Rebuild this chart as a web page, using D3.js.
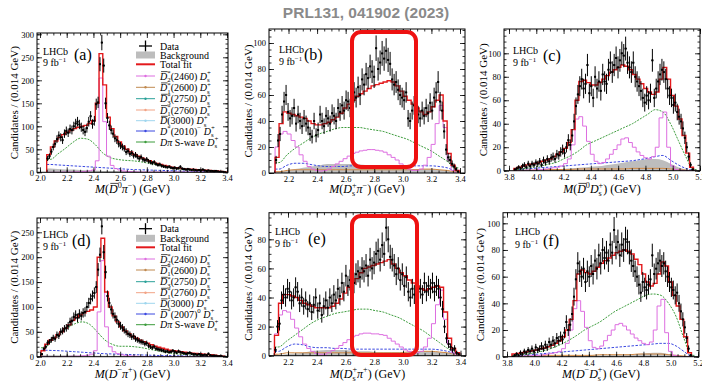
<!DOCTYPE html>
<html><head><meta charset="utf-8">
<script src="https://cdn.jsdelivr.net/npm/d3@7"></script>
<style>
body{margin:0;background:#fff}
svg{display:block;font-family:"Liberation Serif","Times New Roman",serif}
</style>
</head><body>
<svg id="c" width="702" height="383"></svg>
<script>
// ---------------- DATA ----------------
const DATA_BIN = 0.014, FIT_BIN = 0.028, SMOOTH_BIN = 0.056;

// (a) M(Dbar0 pi-)
const aStart = 2.05;
const aData = [30,35,45,55,62,72,80,76,70,84,90,86,94,92,100,106,110,104,98,92,88,96,110,122,105,112,148,152,235,282,232,150,118,102,92,84,74,70,62,58,55,52,44,46,40,42,36,38,34,30,33,28,26,28,24,22,20,22,18,16,17,14,13,12,11,12,10,9,10,8,9,12,8,7,6,7,6,5,6,5,4,5,4,6,4,3,4,3,3,2,3,2,1,1,1,0];
const aTotal = [38,55,68,76,82,87,91,95,98,100,102,106,112,150,258,190,120,95,78,66,57,50,44,39,35,31,28,25,22,19,17,15,13,11,10,9,8,7,6.5,6,5.5,5,4.5,4,3.5,3,2,1];
const aD2460 = [0,0,0,0,0.5,0.5,0.5,1,1,1.5,2,3,5,25,205,110,35,15,8,5,3,2,1.5,1,0.5,0.5,0.5,0.5,0.5,0.5,0.5,0.5,0.5,0.5,0.5,0.5,0.5,0.5,0.5,0.5,0.5,0.5,0.5,0.5,0.5,0.5,0.5,0.5];
const aSwave = [28,40,52,65,74,72,60,42,32,28,26,25,23,20,17,14,11,8,6,4.5,3.5,2.5,2,1];
const aDstar = [17,16,15,14,13,12,11,10,9,8,7,6,5.5,5,4.5,4,3.5,3,2.5,2,1.5,1.2,1,0.5];
const aBkg = [8,7,6,6,5,4,4,3,3,3,2.5,2.5,2,2,2,1.5,1.5,1.5,1,1,1,1,0.5,0.5];

// (b) M(Ds+ pi-)
const bStart = 2.106;
const bData = [10,25,30,45,55,60,47,42,44,50,38,45,40,36,42,38,35,30,28,40,29,33,45,40,36,44,42,38,46,44,40,50,47,52,48,56,55,50,60,62,58,66,60,72,68,76,73,82,78,74,96,80,85,92,88,94,87,84,72,68,70,64,60,58,56,62,42,40,48,52,38,45,42,48,44,50,46,54,48,58,62,70,55,48,32,18,12,10,7,5,3,1];
const bTotal = [12,38,47,46,45,44,43,42,40,38,37,37,38,39,41,43,46,50,53,56,59,61,63,65,67,68,69,70,71,70,67,63,59,56,53,50,47,45,47,51,56,60,40,15,6,2];
const bD2460 = [20,30,32,30,25,20,14,9,5,3,2,1.5,2,3,5,7,9,11,13,15,16,17,17.5,18,18,17.5,17,16,14,12,10,7,5,3,2,2,3,6,12,22,38,52,35,10,2,0];
const bSwave = [8,14,19,23,27,30,32,34,35,35,35,34,33,32,30,28,26,23,20,17,13,9,4];
const bDstar = [3,6,7.5,7.5,6.5,5.5,5,5,5,5.5,5.5,5.5,5.5,5.5,5.5,5.5,5.5,5.5,5.5,5.5,5,4,2];
const bBkg = [1,2,3,4,5,6,7,7,7,7,6.5,6,5,4,3.5,3,3,3,3,3,2.5,2,1];
const bOther = [1,2,2.5,2.5,2.5,2.5,2.5,2.5,2.5,2.5,2.5,2.5,2.5,2.5,2.5,2.5,2.5,2.5,3,3,2.5,2,1];

// (c) M(Dbar0 Ds+)
const cStart = 3.836;
const cData = [1,2,3,2,4,5,3,6,4,6,5,7,6,8,5,9,7,10,8,11,12,10,14,13,16,18,15,20,26,22,30,42,55,65,72,78,70,74,90,66,72,62,80,70,76,68,82,76,74,86,92,84,90,96,88,94,100,98,104,92,88,84,92,80,76,72,68,62,58,64,60,66,94,62,70,76,82,86,84,78,70,64,62,56,58,50,46,42,36,28,20,12,5,1];
const cTotal = [2,3,4,5,5.5,6,7,8,9,10,12,14,16,19,24,35,60,76,77,75,73,73,75,78,81,84,86,88,90,89,86,82,78,74,70,67,65,67,78,88,78,64,55,44,30,15,3];
const cD2460 = [0,0,0,0.5,0.5,0.5,1,1,1.5,2,2.5,3,4,6,10,22,44,46,38,25,14,8,6,7,10,14,18,22,27,28,24,20,16,13,11,10,12,20,45,50,20,4,1,0.5,0,0,0];
const cSwave = [1,2,3,4,5.5,7,10,13,17,22,25,28,31,34,37,40,44,48,52,50,40,26,12,1];
const cDstar = [1,1.5,2,2.5,3,3.5,4,4.5,5,5.5,6,6.5,7,7.5,8,8.5,9.5,10.5,12,13,9,5,2,0.5];
const cBkg = [0,0,0.5,0.5,1,1,1.5,2,2.5,3,3.5,4,5,6,7,8,9,10,10,9,6,3,1,0];
const cOther = [0,0.5,0.5,1,1,1,1,1,1.5,1.5,1.5,1.5,1.5,1.5,1.5,2,2,2,2,2,1.5,1,0.5,0];

// (d) M(D- pi+)
const dStart = 2.008;
const dData = [5,16,20,28,30,34,38,36,44,42,50,52,56,58,62,70,72,80,84,78,86,82,88,90,100,108,116,122,128,140,175,205,262,210,170,122,108,95,86,80,74,66,62,58,54,50,46,44,40,41,36,34,32,30,29,26,27,22,20,18,20,16,15,14,13,12,10,11,9,10,12,10,8,11,9,8,7,6,7,8,6,5,5,4,5,4,3,4,3,6,3,2,2,2,1,1,1,0,0];
const dTotal = [12,25,33,38,44,50,57,64,73,79,84,88,91,94,100,200,238,130,100,82,70,60,52,46,41,37,33,30,27,24,21,19,17,15,13,12,11,10,9,8,7,6.5,6,5,4.5,4,3,2,1];
const dD2460 = [0,0,0,0,0,0,0.5,0.5,1,1,1.5,2,3,5,12,90,193,60,20,10,6,4,3,2,1.5,1,0.5,0.5,0.5,0.5,0.5,0.5,0.5,0.5,0.5,0.5,0.5,0.5,0.5,0.5,0.5,0.5,0.5,0.5,0.5,0.5,0.5,0.5,0.5];
const dSwave = [18,34,46,57,66,70,65,50,34,25,21,21,20,18,15,12,9,7,5,4,3,2,1.5,1,0.5];
const dDstar = [13,12.5,12,11,10,9,8,7,6,5.5,5,4.5,4,3.5,3,2.5,2.2,2,1.8,1.5,1.2,1,0.8,0.6,0.4];
const dBkg = [3,3,3,3,3,2.5,2.5,2,2,2,2,2,1.5,1.5,1.5,1,1,1,1,1,0.5,0.5,0.5,0.5,0];

// (e) M(Ds+ pi+)
const eStart = 2.106;
const eData = [4,20,22,38,42,40,46,44,38,40,47,44,36,40,34,38,32,36,30,35,40,31,36,28,34,38,33,40,36,42,38,46,41,50,44,55,48,52,46,50,56,58,54,60,58,62,55,66,60,64,70,72,66,76,70,88,80,68,66,62,56,60,52,56,48,54,44,40,46,42,48,44,46,42,50,44,48,46,50,44,48,46,40,32,20,12,8,6,4,5,2,1];
const eTotal = [14,36,42,42,41,40,38,36,35,34,33,33,33,33,34,36,39,43,47,50,53,57,60,61,62,63,64,65,66,63,60,57,55,52,50,48,46,45,46,47,48,47,30,12,5,2];
const eD2460 = [15,28,31,30,25,19,13,8,5,3,1.5,1,1,2,3.5,5,7,9,11,13,14,15,15.5,15.5,15,15,14.5,14,12,10,8,6,4,3,2,2,3,6,12,22,35,45,25,8,2,0];
const eSwave = [6,10,14,18,22,25,27,29,30,31,32,32,31,30,28,26,23,20,17,13,9,5,2];
const eDstar = [3,6,8,7.5,6,5.5,5.5,5,5,4.5,4.5,4.5,4.5,4.5,4.5,4.5,4.5,4.5,4.5,4.5,4,3,1.5];
const eBkg = [0.5,1,1.5,2,3,3.5,4,4,4,3.5,3,3,2.5,2.5,2.5,2.5,2.5,3,3,3,2.5,2,1];
const eOther = [1,2,2,2,2,2,2,2,2,2,2,2,2,2,2,2,2.5,2.5,3,3,2.5,2,1];

// (f) M(D- Ds+)
const fStart = 3.836;
const fData = [0,1,2,1,3,2,4,3,5,4,6,4,7,5,6,8,6,9,7,11,9,12,10,14,12,15,13,18,26,20,24,32,45,58,70,64,60,66,56,64,60,68,62,72,66,76,70,80,74,78,72,84,78,95,82,86,76,84,80,88,86,78,72,68,64,60,54,48,56,52,50,54,58,76,62,66,70,72,68,70,64,60,56,52,50,46,48,40,34,28,22,14,6,1];
const fTotal = [2,2.5,3,3.5,4,4.5,5,6,6.5,7.5,8.5,10,12,15,20,28,42,62,65,63,62,64,67,70,72,74,76,78,79,80,79,77,73,69,62,56,53,55,62,71,68,56,46,38,28,15,3];
const fD2460 = [0,0,0.5,0.5,0.5,1,1,1,1.5,2,2.5,3,4,6,10,20,36,42,34,22,12,7,6,8,12,16,20,24,25,23,20,17,14,12,10,9,11,20,38,43,18,4,1,0.5,0,0,0];
const fSwave = [1,1.5,2.5,3.5,5,7,9.5,12.5,16,20,23,26,30,34,37,40,43,46,47,46,40,30,14,1];
const fDstar = [0.5,1,1.5,2,2.5,3,3.5,4,4.5,5,5.5,6,6.5,7,7.5,8,8.5,9,9.5,10,10,8,4,0.5];
const fBkg = [0,0,0,0.5,0.5,0.5,0.5,0.5,1,1,1,1,1,1.5,1.5,1.5,2,2.5,3,3,2,1,0.5,0];
const fOther = [0,0.5,0.5,0.5,1,1,1,1,1,1,1,1.5,1.5,1.5,1.5,1.5,2,2,2,2,1.5,1,0.5,0];

// tick labels
const xTicksDpi = ["2.0","2.2","2.4","2.6","2.8","3.0","3.2","3.4"];
const xTicksDspi = ["2.2","2.4","2.6","2.8","3.0","3.2","3.4"];
const xTicksDDs = ["3.8","4.0","4.2","4.4","4.6","4.8","5.0","5.2"];
const yTicksA = ["0","50","100","150","200","250","300"];
const yTicksD = ["0","50","100","150","200","250"];
const yTicks100 = ["0","20","40","60","80","100"];
const yTicks80 = ["0","20","40","60","80"];

const legendA = ["Data","Background","Total fit",
  "#bar{D}_{2}^{*}(2460) #it{D}_{s}^{+}","#bar{D}_{1}^{*}(2600) #it{D}_{s}^{+}","#bar{D}_{3}^{*}(2750) #it{D}_{s}^{+}",
  "#bar{D}_{1}^{*}(2760) #it{D}_{s}^{+}","#bar{D}(3000) #it{D}_{s}^{+}","#it{D}^{*}(2010)^{−} #it{D}_{s}^{+}","#it{D}#it{π} S-wave #it{D}_{s}^{+}"];
const legendD = ["Data","Background","Total fit",
  "#bar{D}_{2}^{*}(2460) #it{D}_{s}^{+}","#bar{D}_{1}^{*}(2600) #it{D}_{s}^{+}","#bar{D}_{3}^{*}(2750) #it{D}_{s}^{+}",
  "#bar{D}_{1}^{*}(2760) #it{D}_{s}^{+}","#bar{D}(3000) #it{D}_{s}^{+}","#bar{D}^{*}(2007)^{0} #it{D}_{s}^{+}","#it{D}#it{π} S-wave #it{D}_{s}^{+}"];

const panels = [
 {id:"a", start:aStart, data:aData, total:aTotal, d2460:aD2460, swave:aSwave, dstar:aDstar, bkg:aBkg, other:null, xTicks:xTicksDpi, yTicks:yTicksA, xLabel:"#it{M}(#bar{D}^{0}#it{π}^{−}) (GeV)", tag:"(a)", legend:legendA},
 {id:"b", start:bStart, data:bData, total:bTotal, d2460:bD2460, swave:bSwave, dstar:bDstar, bkg:bBkg, other:bOther, xTicks:xTicksDspi, yTicks:yTicks100, xLabel:"#it{M}(#it{D}_{s}^{+}#it{π}^{−}) (GeV)", tag:"(b)", legend:null},
 {id:"c", start:cStart, data:cData, total:cTotal, d2460:cD2460, swave:cSwave, dstar:cDstar, bkg:cBkg, other:cOther, xTicks:xTicksDDs, yTicks:yTicks100, xLabel:"#it{M}(#bar{D}^{0}#it{D}_{s}^{+}) (GeV)", tag:"(c)", legend:null},
 {id:"d", start:dStart, data:dData, total:dTotal, d2460:dD2460, swave:dSwave, dstar:dDstar, bkg:dBkg, other:null, xTicks:xTicksDpi, yTicks:yTicksD, xLabel:"#it{M}(#it{D}^{−}#it{π}^{+}) (GeV)", tag:"(d)", legend:legendD},
 {id:"e", start:eStart, data:eData, total:eTotal, d2460:eD2460, swave:eSwave, dstar:eDstar, bkg:eBkg, other:eOther, xTicks:xTicksDspi, yTicks:yTicks80, xLabel:"#it{M}(#it{D}_{s}^{+}#it{π}^{+}) (GeV)", tag:"(e)", legend:null},
 {id:"f", start:fStart, data:fData, total:fTotal, d2460:fD2460, swave:fSwave, dstar:fDstar, bkg:fBkg, other:fOther, xTicks:xTicksDDs, yTicks:yTicks100, xLabel:"#it{M}(#it{D}^{−}#it{D}_{s}^{+}) (GeV)", tag:"(f)", legend:null}
];

// ---------------- LAYOUT ----------------
const layout = {
 a:{xr:[2.0,40,3.4,227], yr:[0,172.3,300,34.3], frame:[37,228,33,172.3], yMinor:10, lhcb:[43,55,66], tag:[74,60], ylabX:14, xlabY:193, box:null,
    legend:{sx0:136,sx1:155,tx:160,rows:[46,55,64.3,76,87.3,98.7,110,120.7,131,142]}},
 b:{xr:[2.2,288.5,3.4,460], yr:[0,173,100,43], frame:[269,465,29,173], yMinor:5, lhcb:[279,52.5,65], tag:[304,60], ylabX:248, xlabY:193, box:[352,32,416,167]},
 c:{xr:[3.8,509,5.2,700], yr:[0,170.7,100,53.3], frame:[504,700,29,170.7], yMinor:5, lhcb:[513,54,66], tag:[543,61], ylabX:483, xlabY:193, box:null},
 d:{xr:[2.0,40,3.4,227], yr:[0,356.7,250,232.3], frame:[37,228,218,356.7], yMinor:10, lhcb:[43,238,250], tag:[72,246], ylabX:14, xlabY:377.5, box:null,
    legend:{sx0:136,sx1:155,tx:160,rows:[228.7,238.3,247.3,259,270,281.7,292.7,303.3,314,324.7]}},
 e:{xr:[2.2,288,3.4,460.5], yr:[0,355.7,80,239.3], frame:[269,466,212.7,355.7], yMinor:5, lhcb:[275,235,247], tag:[308,244], ylabX:248, xlabY:377.5, box:[352,216,417,355]},
 f:{xr:[3.8,507,5.2,698], yr:[0,356.7,100,223.3], frame:[503,699,212.7,356.7], yMinor:5, lhcb:[515,235,248], tag:[543,246], ylabX:480, xlabY:377.5, box:null}
};

const COL = {total:"#e3191c", d2460:"#dd6ee0", swave:"#3c9c3c", dstar:"#3a48e0", bkg:"#bdbdbd", other:"#d28a45"};
const legendColors = [null,null,null,"#dd6ee0","#c08a50","#2aa198","#f2a385","#9fd6ee","#3a48e0","#3c9c3c"];

const svg = d3.select("#c");
svg.append("rect").attr("width",702).attr("height",383).attr("fill","#fff");
const defs = svg.append("defs");

// rich text helper (ROOT-like markup)
function rich(parent, str, x, y, size, anchor){
  const t = parent.append("text").attr("x",x).attr("y",y).attr("font-size",size);
  if(anchor) t.attr("text-anchor",anchor);
  const toks=[]; let i=0, buf="";
  const flush=()=>{ if(buf){toks.push({t:buf,k:"n"}); buf="";} };
  while(i<str.length){
    const m = str.slice(i).match(/^(#bar|#it|_|\^)\{([^}]*)\}/);
    if(m){ flush(); toks.push({t:m[2],k:m[1]}); i+=m[0].length; }
    else { buf+=str[i]; i++; }
  }
  flush();
  let shift=0, prev=null; const bars=[];
  toks.forEach(tk=>{
    const ts=t.append("tspan").text(tk.t);
    let target=0;
    const script = tk.k==="_"||tk.k==="^";
    if(tk.k==="_"){target=0.28*size; ts.attr("font-size",size*0.68);}
    if(tk.k==="^"){target=-0.42*size; ts.attr("font-size",size*0.68);}
    if(tk.k==="#it"||tk.k==="#bar") ts.attr("font-style","italic");
    ts.attr("dy",target-shift); shift=target;
    if(script && prev && prev.k!==tk.k){ ts.attr("dx",-prev.node.getComputedTextLength()); prev=null; }
    else if(script){ prev={k:tk.k,node:ts.node()}; }
    else prev=null;
    if(tk.k==="#bar") bars.push({node:ts.node(),size});
  });
  return {t, bars};
}
function drawBars(parent, bars){
  bars.forEach(b=>{
    const e=b.node.getExtentOfChar(0);
    const yy=e.y+e.height*0.1;
    parent.append("line").attr("x1",e.x+e.width*0.15).attr("x2",e.x+e.width*1.05)
      .attr("y1",yy).attr("y2",yy).attr("stroke","#000").attr("stroke-width",0.7);
  });
}

function stepPoints(vals,start,w){
  const p=[[start,0]];
  vals.forEach((v,i)=>{p.push([start+i*w,v]);p.push([start+(i+1)*w,v]);});
  p.push([start+vals.length*w,0]);
  return p;
}
function smoothPoints(vals,start,w){
  const p=[[start,vals[0]]];
  vals.forEach((v,i)=>p.push([start+(i+0.5)*w,v]));
  p.push([start+vals.length*w,vals[vals.length-1]]);
  return p;
}

function drawPanel(P){
  const L=layout[P.id];
  const [fx0,fx1,fy0,fy1]=L.frame;
  const x=d3.scaleLinear().domain([L.xr[0],L.xr[2]]).range([L.xr[1],L.xr[3]]);
  const y=d3.scaleLinear().domain([L.yr[0],L.yr[2]]).range([L.yr[1],L.yr[3]]);
  const g=svg.append("g");
  defs.append("clipPath").attr("id","clip"+P.id).append("rect")
    .attr("x",fx0).attr("y",fy0).attr("width",fx1-fx0).attr("height",fy1-fy0);
  const pg=g.append("g").attr("clip-path",`url(#clip${P.id})`);
  const line=d3.line().x(d=>x(d[0])).y(d=>y(d[1]));
  const sline=d3.line().x(d=>x(d[0])).y(d=>y(d[1])).curve(d3.curveMonotoneX);
  // background
  pg.append("path").datum(smoothPoints(P.bkg,P.start,SMOOTH_BIN))
    .attr("d",d3.area().x(d=>x(d[0])).y0(y(0)).y1(d=>y(d[1])).curve(d3.curveMonotoneX))
    .attr("fill",COL.bkg);
  if(P.other) pg.append("path").datum(smoothPoints(P.other,P.start,SMOOTH_BIN)).attr("d",sline)
    .attr("fill","none").attr("stroke",COL.other).attr("stroke-width",1);
  pg.append("path").datum(smoothPoints(P.dstar,P.start,SMOOTH_BIN)).attr("d",sline)
    .attr("fill","none").attr("stroke",COL.dstar).attr("stroke-width",1).attr("stroke-dasharray","2.5,1.5");
  pg.append("path").datum(smoothPoints(P.swave,P.start,SMOOTH_BIN)).attr("d",sline)
    .attr("fill","none").attr("stroke",COL.swave).attr("stroke-width",1).attr("stroke-dasharray","2,1.2");
  pg.append("path").datum(stepPoints(P.d2460,P.start,FIT_BIN)).attr("d",line)
    .attr("fill","none").attr("stroke",COL.d2460).attr("stroke-width",1);
  pg.append("path").datum(stepPoints(P.total,P.start,FIT_BIN)).attr("d",line)
    .attr("fill","none").attr("stroke",COL.total).attr("stroke-width",1.4);
  // data
  const pts=P.data.map((v,i)=>({c:P.start+(i+0.5)*DATA_BIN,v}));
  const dg=pg.append("g").attr("stroke","#000").attr("stroke-width",1);
  dg.selectAll("line.v").data(pts.filter(d=>d.v>0)).join("line").attr("class","v")
    .attr("x1",d=>x(d.c)).attr("x2",d=>x(d.c))
    .attr("y1",d=>y(d.v+Math.sqrt(d.v))).attr("y2",d=>y(Math.max(0,d.v-Math.sqrt(d.v))));
  dg.selectAll("line.h").data(pts).join("line").attr("class","h")
    .attr("x1",d=>x(d.c-DATA_BIN/2)).attr("x2",d=>x(d.c+DATA_BIN/2))
    .attr("y1",d=>y(d.v)).attr("y2",d=>y(d.v));
  pg.append("g").selectAll("rect").data(pts).join("rect")
    .attr("x",d=>x(d.c)-1).attr("y",d=>y(d.v)-1).attr("width",2).attr("height",2).attr("fill","#000");

  // axes
  const xMin=x.invert(fx0), xMax=x.invert(fx1), yMax=y.invert(fy0);
  const xMaj=P.xTicks.map(Number), yMaj=P.yTicks.map(Number);
  const xMinor=d3.range(Math.ceil(xMin/0.05-1e-6),Math.floor(xMax/0.05+1e-6)+1).map(k=>k*0.05);
  const yMinor=d3.range(0,Math.floor(yMax/L.yMinor)+1).map(k=>k*L.yMinor);
  const ax=(a)=>{a.select(".domain").remove(); a.selectAll("line").attr("stroke","#000").attr("stroke-width",0.8);
     a.selectAll("text").attr("font-size",8.5).attr("font-family","Liberation Serif, serif");};
  g.append("g").attr("transform",`translate(0,${fy1})`).call(d3.axisBottom(x).tickValues(xMaj).tickFormat((d,i)=>P.xTicks[i]).tickSize(-5).tickPadding(3)).call(ax);
  g.append("g").attr("transform",`translate(0,${fy1})`).call(d3.axisBottom(x).tickValues(xMinor).tickFormat("").tickSize(-2.5)).call(ax);
  g.append("g").attr("transform",`translate(0,${fy0})`).call(d3.axisTop(x).tickValues(xMaj).tickFormat("").tickSize(-5)).call(ax);
  g.append("g").attr("transform",`translate(0,${fy0})`).call(d3.axisTop(x).tickValues(xMinor).tickFormat("").tickSize(-2.5)).call(ax);
  g.append("g").attr("transform",`translate(${fx0},0)`).call(d3.axisLeft(y).tickValues(yMaj).tickFormat((d,i)=>P.yTicks[i]).tickSize(-5).tickPadding(3)).call(ax);
  g.append("g").attr("transform",`translate(${fx0},0)`).call(d3.axisLeft(y).tickValues(yMinor).tickFormat("").tickSize(-2.5)).call(ax);
  g.append("g").attr("transform",`translate(${fx1},0)`).call(d3.axisRight(y).tickValues(yMaj).tickFormat("").tickSize(-5)).call(ax);
  g.append("g").attr("transform",`translate(${fx1},0)`).call(d3.axisRight(y).tickValues(yMinor).tickFormat("").tickSize(-2.5)).call(ax);
  g.append("rect").attr("x",fx0).attr("y",fy0).attr("width",fx1-fx0).attr("height",fy1-fy0)
    .attr("fill","none").attr("stroke","#000").attr("stroke-width",1);

  // labels
  const yc=(fy0+fy1)/2;
  g.append("text").attr("transform",`translate(${L.ylabX+4},${yc}) rotate(-90)`).attr("text-anchor","middle")
    .attr("font-size",11).text("Candidates / (0.014 GeV)");
  const xl=rich(g,P.xLabel,(fx0+fx1)/2,L.xlabY,12,"middle"); drawBars(g,xl.bars);
  g.append("text").attr("x",L.lhcb[0]).attr("y",L.lhcb[1]).attr("font-size",10).text("LHCb");
  rich(g,"9 fb^{−1}",L.lhcb[0],L.lhcb[2],10);
  g.append("text").attr("x",L.tag[0]).attr("y",L.tag[1]).attr("font-size",16).text(P.tag);
  if(L.box) g.append("rect").attr("x",L.box[0]).attr("y",L.box[1]).attr("width",L.box[2]-L.box[0]).attr("height",L.box[3]-L.box[1])
    .attr("rx",9).attr("fill","none").attr("stroke","#ee1111").attr("stroke-width",4);

  // legend
  if(P.legend){
    const Lg=L.legend, lg=g.append("g");
    const sm=(Lg.sx0+Lg.sx1)/2;
    P.legend.forEach((s,i)=>{
      const ry=Lg.rows[i];
      if(i===0){
        lg.append("line").attr("x1",sm-6.5).attr("x2",sm+6.5).attr("y1",ry).attr("y2",ry).attr("stroke","#000").attr("stroke-width",1.3);
        lg.append("line").attr("x1",sm).attr("x2",sm).attr("y1",ry-5.5).attr("y2",ry+5.5).attr("stroke","#000").attr("stroke-width",1.3);
      } else if(i===1){
        lg.append("rect").attr("x",Lg.sx0).attr("y",ry-3.5).attr("width",Lg.sx1-Lg.sx0).attr("height",7).attr("fill",COL.bkg);
      } else if(i===2){
        lg.append("line").attr("x1",Lg.sx0).attr("x2",Lg.sx1).attr("y1",ry).attr("y2",ry).attr("stroke",COL.total).attr("stroke-width",2);
      } else {
        lg.append("line").attr("x1",Lg.sx0).attr("x2",Lg.sx1).attr("y1",ry).attr("y2",ry).attr("stroke",legendColors[i]).attr("stroke-width",1);
        lg.append("circle").attr("cx",sm).attr("cy",ry).attr("r",1.2).attr("fill",legendColors[i]);
      }
      const r=rich(lg,s,Lg.tx,ry+3.5,10); drawBars(lg,r.bars);
    });
  }
}

panels.forEach(drawPanel);

svg.append("text").attr("x",366).attr("y",17.5).attr("text-anchor","middle")
  .style("font-family","'Liberation Sans', Arial, sans-serif").attr("font-weight","bold").attr("font-size",15.5)
  .attr("fill","#8a8a8a").text("PRL131, 041902 (2023)");
</script>
</body></html>
